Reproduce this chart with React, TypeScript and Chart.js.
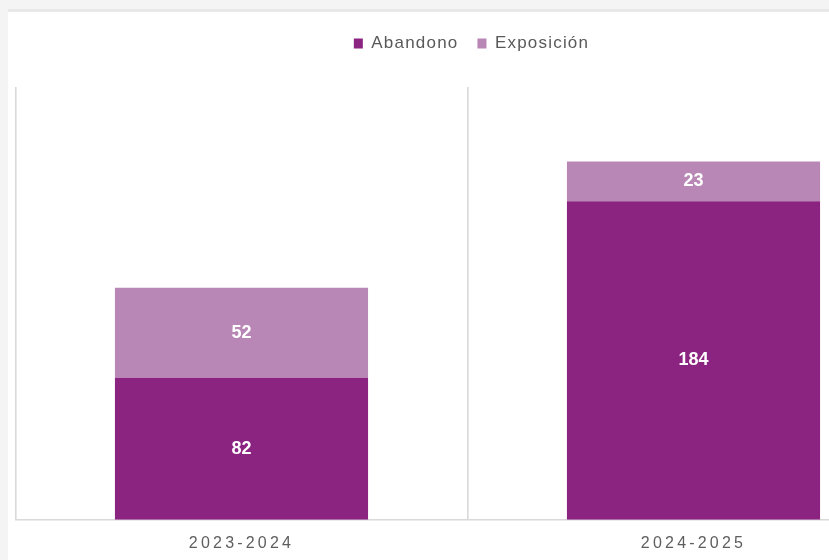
import React, { useEffect, useRef } from "react";
import { Chart, registerables } from "chart.js";

Chart.register(...registerables);

const categories = ["2023-2024", "2024-2025"];
const abandono = [82, 184];
const exposicion = [52, 23];
const seriesNames = ["Abandono", "Exposición"];
const seriesColors = ["#8B2380", "#B987B5"];

const FONT = "'Liberation Sans', Arial, Helvetica, sans-serif";

const spacingPlugin = {
  id: "spacingAndLabels",
  beforeInit(chart: any) {
    const legend = chart.legend;
    if (legend) {
      const origFit = legend.fit;
      legend.fit = function () {
        origFit.call(this);
        this.height = 71;
      };
      const origDraw = legend.draw;
      legend.draw = function () {
        const ctx = this.ctx;
        ctx.save();
        ctx.translate(4, 0);
        origDraw.call(this);
        ctx.restore();
      };
    }
  },
  beforeLayout(chart: any) {
    chart.ctx.letterSpacing = "1.2px";
  },
  beforeDraw(chart: any) {
    chart.ctx.letterSpacing = "1.2px";
  },
  afterDatasetsDraw(chart: any) {
    const ctx = chart.ctx;
    ctx.save();
    ctx.letterSpacing = "0px";
    ctx.fillStyle = "#ffffff";
    ctx.font = `bold 18px ${FONT}`;
    ctx.textAlign = "center";
    ctx.textBaseline = "middle";
    chart.data.datasets.forEach((ds: any, i: number) => {
      const meta = chart.getDatasetMeta(i);
      meta.data.forEach((bar: any, j: number) => {
        const p = bar.getProps(["x", "y", "base"], true);
        ctx.fillText(String(ds.data[j]), p.x, (p.y + p.base) / 2);
      });
    });
    ctx.restore();
    ctx.letterSpacing = "3.2px";
  },
  afterDraw(chart: any) {
    chart.ctx.letterSpacing = "0px";
  },
};

export default function App() {
  const ref = useRef<HTMLCanvasElement | null>(null);

  useEffect(() => {
    if (!ref.current) return;
    const chart = new Chart(ref.current, {
      type: "bar",
      data: {
        labels: categories,
        datasets: [
          {
            label: seriesNames[0],
            data: abandono,
            backgroundColor: seriesColors[0],
            borderWidth: 0,
          },
          {
            label: seriesNames[1],
            data: exposicion,
            backgroundColor: seriesColors[1],
            borderWidth: 0,
          },
        ],
      },
      options: {
        animation: false,
        responsive: false,
        devicePixelRatio: 1,
        datasets: {
          bar: { barPercentage: 0.56, categoryPercentage: 1 },
        },
        layout: { padding: { left: 7.5, right: 4.5, top: 4, bottom: 7 } },
        plugins: {
          legend: {
            display: true,
            position: "top",
            labels: {
              boxWidth: 9,
              boxHeight: 10,
              padding: 19,
              color: "#595959",
              font: { family: FONT, size: 17 },
            },
          },
          tooltip: { enabled: false },
        },
        scales: {
          x: {
            stacked: true,
            grid: {
              display: true,
              drawTicks: false,
              color: "#d9d9d9",
              lineWidth: 1.6,
              offset: true,
            },
            border: { display: true, color: "#d9d9d9", width: 1.6 },
            ticks: {
              z: 1,
              padding: 14,
              color: "#5e5e5e",
              font: { family: FONT, size: 16 },
              maxRotation: 0,
            },
          },
          y: {
            stacked: true,
            display: false,
            min: 0,
            max: 250,
          },
        },
      },
      plugins: [spacingPlugin],
    });
    return () => chart.destroy();
  }, []);

  return (
    <div
      style={{
        position: "fixed",
        left: 0,
        top: 0,
        width: 829,
        height: 560,
        background: "#f4f4f4",
        overflow: "hidden",
      }}
    >
      <div
        style={{
          position: "absolute",
          left: 8,
          top: 9,
          width: 1000,
          height: 600,
          background: "#ffffff",
          borderTop: "3px solid #e7e7e7",
        }}
      >
        <canvas
          ref={ref}
          width={916}
          height={562}
          style={{ display: "block", width: 916, height: 562 }}
        />
      </div>
    </div>
  );
}
